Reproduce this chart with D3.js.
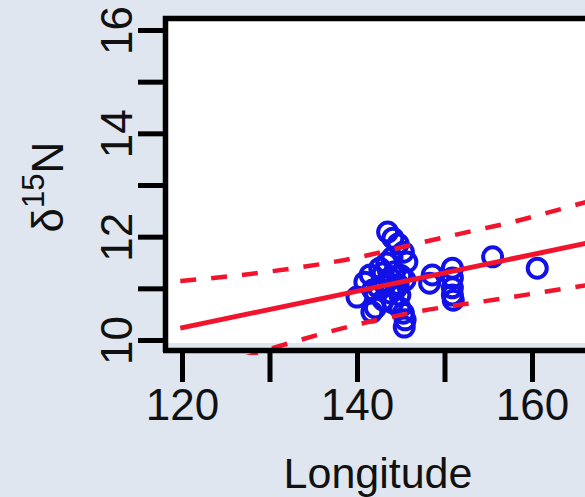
<!DOCTYPE html>
<html lang="en">
  <head>
    <meta charset="UTF-8" />
    <title>d15N vs Longitude</title>
    <style>
      body { margin: 0; background: #dfe6f0; }
      svg { display: block; font-family: "Liberation Sans", Arial, sans-serif; }
    </style>
  </head>
  <body>
    <svg id="chart" width="585" height="497"></svg>
    <script src="https://cdn.jsdelivr.net/npm/d3@7"></script>
    <script>
      const longitude = [143.5, 144.1, 144.7, 145.3, 145.7, 142.6, 143.4, 144.3, 140.9, 140.0,
        141.8, 142.1, 143.0, 144.1, 145.3, 145.5, 145.4, 143.2, 144.7, 145.5,
        143.8, 144.9, 141.5, 144.0, 141.7, 148.6, 148.3, 150.9, 150.9, 150.9,
        150.9, 151.0, 155.5, 160.6, 143.8, 144.5, 142.4, 144.9, 143.0, 145.0];
      const d15N = [12.09, 11.97, 11.86, 11.70, 11.51, 11.39, 11.49, 11.32, 11.12, 10.83,
        10.97, 10.62, 10.77, 10.72, 10.52, 10.39, 10.25, 11.07, 11.07, 11.16,
        10.91, 10.87, 11.26, 11.59, 10.54, 11.26, 11.10, 11.39, 11.20, 11.01,
        10.87, 10.77, 11.61, 11.39, 11.20, 11.00, 11.02, 10.62, 11.30, 11.25];

      const fitLine = [[119.8, 10.23], [167, 11.90]];
      const upperBand = [[119.8, 11.14], [129.8, 11.32], [138.6, 11.55], [149.5, 11.97],
        [153.7, 12.13], [157.7, 12.28], [161.7, 12.46], [167, 12.71]];
      const lowerBand = [[120, 9.40], [125, 9.55], [130.9, 9.87], [138.4, 10.23], [147, 10.55],
        [156.9, 10.81], [164.3, 11.01], [167, 11.08]];

      const xTicks = [120, 130, 140, 150, 160];
      const yTicks = [10, 11, 12, 13, 14, 15, 16];

      const svg = d3.select("#chart");
      const x = d3.scaleLinear().domain([120, 160]).range([182, 532]);
      const y = d3.scaleLinear().domain([10, 16]).range([340, 30]);

      // plot area
      svg.append("rect")
        .attr("x", 167).attr("y", 21)
        .attr("width", 420).attr("height", 322)
        .attr("fill", "#fff");

      svg.append("defs").append("clipPath").attr("id", "clip")
        .append("rect").attr("x", 166).attr("y", 20).attr("width", 420).attr("height", 335);

      const red = "#f2142c";
      const line = d3.line().x(d => x(d[0])).y(d => y(d[1]));
      const curve = d3.line().x(d => x(d[0])).y(d => y(d[1])).curve(d3.curveMonotoneX);

      // points
      svg.append("g")
        .selectAll("circle")
        .data(longitude.map((lo, i) => [lo, d15N[i]]))
        .join("circle")
        .attr("cx", d => x(d[0]))
        .attr("cy", d => y(d[1]))
        .attr("r", 9.5)
        .attr("fill", "none")
        .attr("stroke", "#1111e8")
        .attr("stroke-width", 4);

      const lines = svg.append("g").attr("clip-path", "url(#clip)");
      lines.append("path").attr("d", line(fitLine))
        .attr("fill", "none").attr("stroke", red).attr("stroke-width", 5);
      [upperBand, lowerBand].forEach(b => {
        lines.append("path").attr("d", curve(b))
          .attr("fill", "none").attr("stroke", red).attr("stroke-width", 4.5)
          .attr("stroke-dasharray", "16,15");
      });

      // box lines
      svg.append("path")
        .attr("d", "M585,18.5 H165.5 V352")
        .attr("fill", "none").attr("stroke", "#000").attr("stroke-width", 5.5);
      svg.append("line")
        .attr("x1", 163).attr("x2", 590).attr("y1", 350.5).attr("y2", 350.5)
        .attr("stroke", "#000").attr("stroke-width", 5.5);

      // y axis
      const gy = svg.append("g").attr("transform", "translate(165,0)")
        .call(d3.axisLeft(y).tickValues(yTicks).tickSize(27)
          .tickFormat(d => d % 2 === 0 ? d : ""));
      gy.select(".domain").remove();
      gy.selectAll("line").attr("stroke-width", 5);
      gy.selectAll("text")
        .attr("x", 0).attr("dy", 0)
        .attr("text-anchor", "middle")
        .attr("transform", "translate(-33,0) rotate(-90)")
        .attr("font-size", 44)
        .attr("font-family", "'Liberation Sans', Arial, sans-serif")
        .attr("fill", "#111");

      // x axis
      const gx = svg.append("g").attr("transform", "translate(0,350)")
        .call(d3.axisBottom(x).tickValues(xTicks).tickSize(32)
          .tickFormat(d => d % 20 === 0 ? d : ""));
      gx.select(".domain").remove();
      gx.selectAll("line").attr("stroke-width", 5);
      gx.selectAll("text")
        .attr("y", 70).attr("dy", 0)
        .attr("font-size", 44)
        .attr("font-family", "'Liberation Sans', Arial, sans-serif")
        .attr("fill", "#111");

      // axis titles
      svg.append("text")
        .attr("x", 378).attr("y", 488)
        .attr("text-anchor", "middle")
        .attr("font-size", 43)
        .attr("fill", "#111")
        .text("Longitude");

      const yl = svg.append("text")
        .attr("transform", "translate(63,187) rotate(-90)")
        .attr("text-anchor", "middle")
        .attr("font-size", 44)
        .attr("fill", "#111");
      yl.append("tspan").text("δ");
      yl.append("tspan").attr("font-size", 31).attr("dy", -19).text("15");
      yl.append("tspan").attr("dy", 19).text("N");
    </script>
  </body>
</html>
